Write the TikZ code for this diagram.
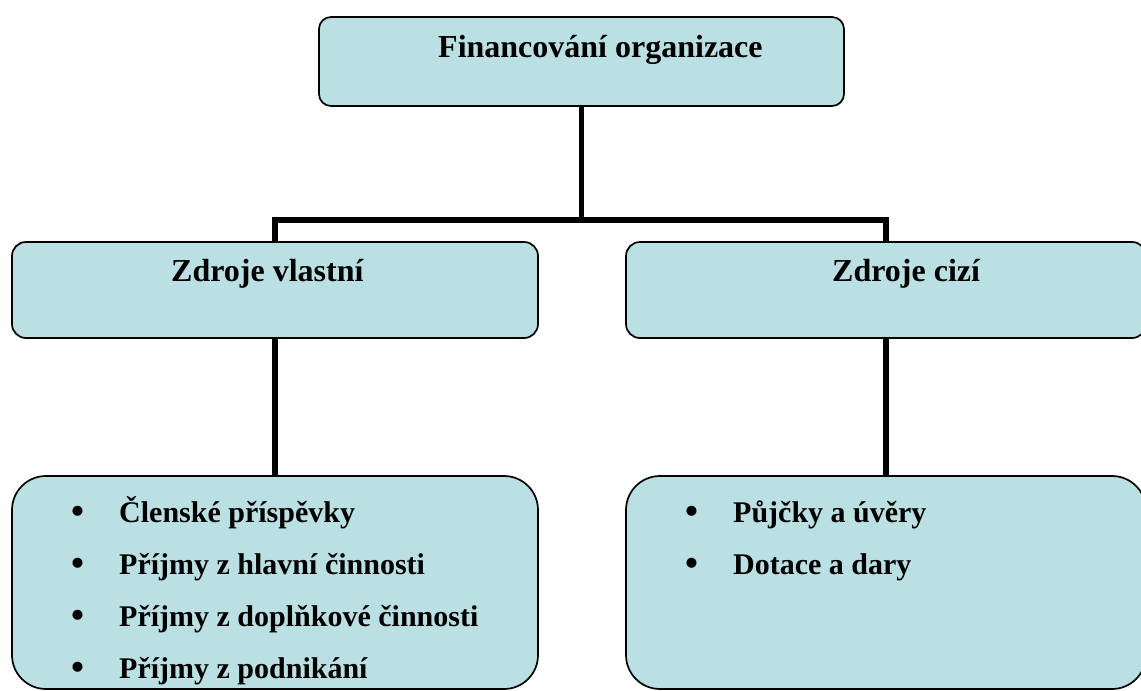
\documentclass[tikz,border=0pt]{standalone}
\usepackage{fontspec}
\setmainfont{Liberation Serif}
\definecolor{boxfill}{RGB}{187,224,227}
\newcommand{\itembullet}{\makebox[48pt][l]{\raisebox{-1.5pt}{\fontsize{37}{37}\selectfont •}}}
\begin{document}
\begin{tikzpicture}[x=1pt,y=-1pt,
  box/.style={draw=black, line width=1.7pt, fill=boxfill, inner sep=0pt, outer sep=0pt},
  conn/.style={draw=black, line width=5.5pt},
  head/.style={anchor=base west, inner sep=0pt, font=\bfseries\fontsize{32}{38}\selectfont},
  listitem/.style={anchor=base west, inner sep=0pt, font=\bfseries\fontsize{30}{36}\selectfont}]
\useasboundingbox (0,0) rectangle (1141,691);
\clip (0,0) rectangle (1141,691);

% boxes
\node[box, rounded corners=12pt, minimum width=525pt, minimum height=89pt] (fin) at (581.5,61.5) {};
\node[box, rounded corners=14pt, minimum width=526pt, minimum height=96pt] (vl) at (275,290) {};
\node[box, rounded corners=14pt, minimum width=520pt, minimum height=96pt] (vc) at (886,290) {};
\node[box, rounded corners=34pt, minimum width=526pt, minimum height=213pt] (ll) at (275,582.5) {};
\node[box, rounded corners=34pt, minimum width=520pt, minimum height=213pt] (lc) at (886,582.5) {};

% connectors
\coordinate (j) at (581.5,220);
\draw[conn] (fin.south) -- (j);
\draw[conn] (vl.north) |- (j) -| (vc.north);
\draw[conn] (vl.south) -- (ll.north);
\draw[conn] (vc.south) -- (lc.north);

% headings
\node[head] (tfin) at (438,57) {Financování organizace};
\node[head] (tvl) at (171,281) {Zdroje vlastní};
\node[head] (tvc) at (832,281) {Zdroje cizí};

% lists
\node[listitem] (a1) at (71,522) {\itembullet Členské příspěvky};
\node[listitem] (a2) at (71,574) {\itembullet Příjmy z hlavní činnosti};
\node[listitem] (a3) at (71,626) {\itembullet Příjmy z doplňkové činnosti};
\node[listitem] (a4) at (71,678) {\itembullet Příjmy z podnikání};
\node[listitem] (b1) at (685,522) {\itembullet Půjčky a úvěry};
\node[listitem] (b2) at (685,574) {\itembullet Dotace a dary};
\end{tikzpicture}
\end{document}
